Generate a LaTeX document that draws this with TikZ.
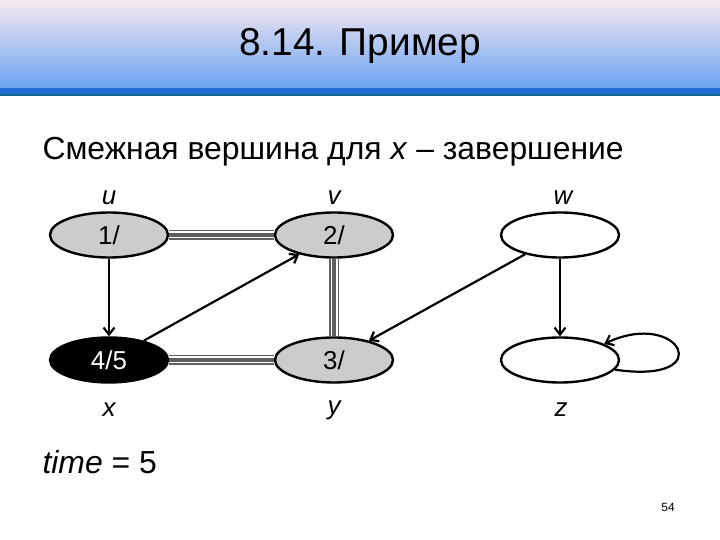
\documentclass[tikz,border=0pt]{standalone}
\usepackage{fontspec}
\setmainfont{Liberation Sans}
\usetikzlibrary{shapes.geometric,positioning,arrows.meta}

\definecolor{bartop}{HTML}{F6E9F1}
\definecolor{barbottom}{HTML}{6CA4F2}
\definecolor{barline}{HTML}{1E6FD6}
\definecolor{barteal}{HTML}{0F6A8C}
\definecolor{treegray}{HTML}{5E5E5E}

\begin{document}
\begin{tikzpicture}[
          x=1bp, y=1bp,
          >={Straight Barb[length=7bp, width=11bp]},
          vertex/.style={ellipse, draw, line width=2.4bp, minimum width=118bp, minimum height=45bp,
                         inner sep=0pt, font=\fontsize{26}{26}\selectfont},
          visited/.style={vertex, fill=black!20},
          done/.style={vertex, fill=black, text=white},
          vlabel/.style={font=\fontsize{26}{26}\selectfont\itshape},
          arrow/.style={->, line width=2.2bp},
          treeedge/.style={draw=treegray, line width=10bp,
                           postaction={draw=white, line width=7bp,
                           postaction={draw=treegray, line width=4bp}}}
        ]
          \useasboundingbox (0,0) rectangle (720,540);

          % title bar
          \shade[top color=bartop, bottom color=barbottom] (0,540) rectangle (720,452);
          \fill[barline] (0,452) rectangle (720,446);
          \fill[barteal] (0,446) rectangle (720,444);
          \node (title) at (360,494) {\fontsize{39}{39}\selectfont 8.14. Пример};
          \node (sub) [anchor=west] at (39,388) {\fontsize{32}{32}\selectfont Смежная вершина для \textit{x} – завершение};

          % vertices
          \node[visited] (u) at (109,305) {1/};
          \node[visited] (v) at (334,305) {2/};
          \node[vertex]  (w) at (560,305) {};
          \node[done]    (x) at (109,180) {4/5};
          \node[visited] (y) at (334,180) {3/};
          \node[vertex]  (z) at (560,180) {};

          \node[vlabel] (lu) at (109,342) {u};
          \node[vlabel] (lv) at (334,342) {v};
          \node[vlabel] (lw) at (563,342) {w};
          \node[vlabel] (lx) at (109,130) {x};
          \node[vlabel] (ly) at (334,130) {y};
          \node[vlabel] (lz) at (561,130) {z};

          % tree edges
          \draw[treeedge] (u) -- (v);
          \draw[treeedge] (v) -- (y);
          \draw[treeedge] (y) -- (x);

          % other edges
          \draw[arrow] (u) -- (x);
          \draw[arrow] (x) -- (v);
          \draw[arrow] (w) -- (y);
          \draw[arrow] (w) -- (z);
          \draw[arrow] (z.-10) .. controls (720,155) and (680,232) .. (z.20);

          \node (time) [anchor=west] at (39,78) {\fontsize{32}{32}\selectfont\textit{time} = 5};
          \node (page) at (668,33) {\fontsize{12}{12}\selectfont 54};
\end{tikzpicture}
\end{document}
